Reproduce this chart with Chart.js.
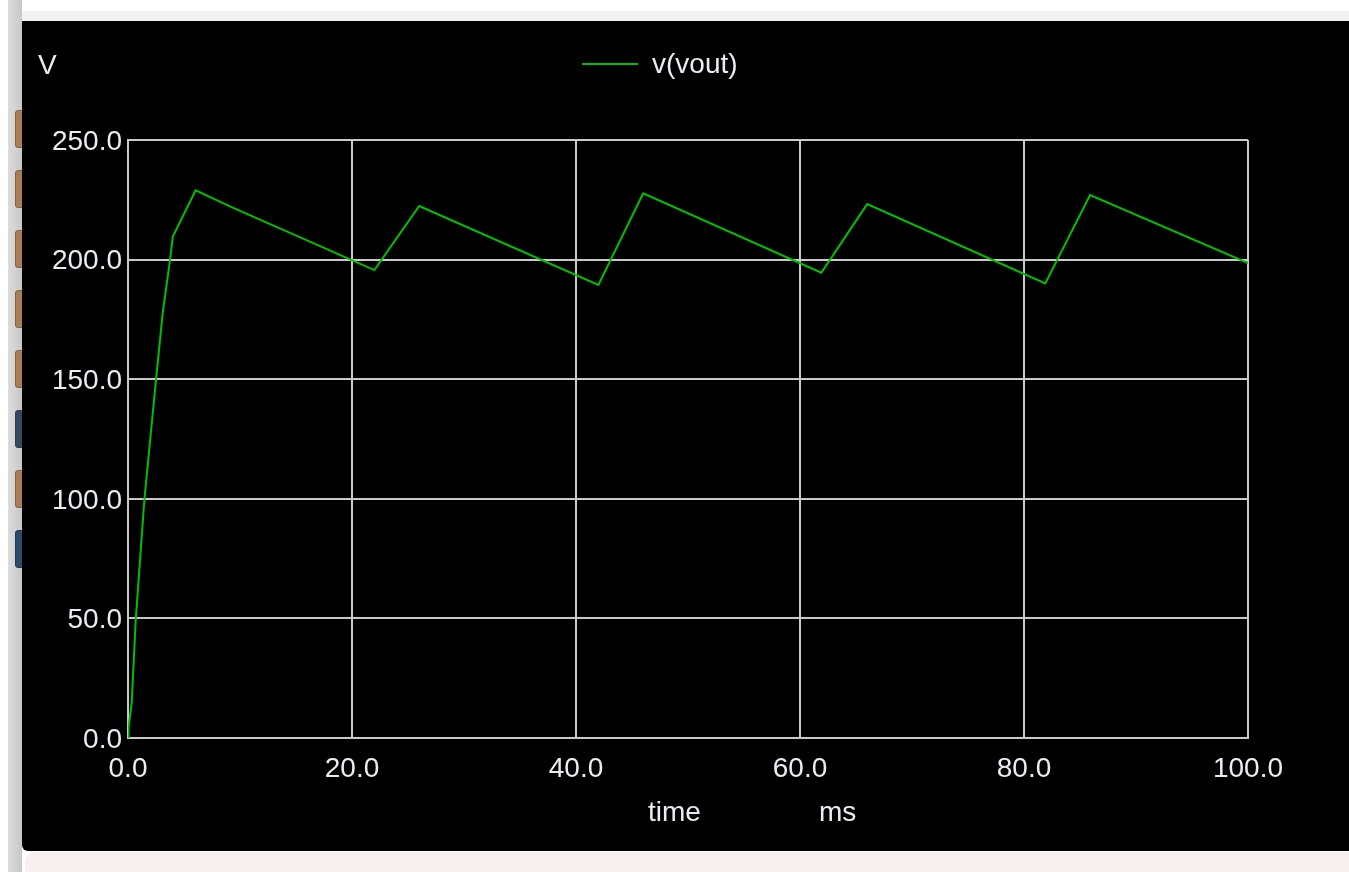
<!DOCTYPE html>
<html>
<head>
<meta charset="utf-8">
<title>v(vout)</title>
<script src="https://cdn.jsdelivr.net/npm/chart.js@4.4.1/dist/chart.umd.min.js"></script>
<style>
  html, body { margin: 0; padding: 0; }
  body { width: 1349px; height: 872px; position: relative; overflow: hidden; background: #ffffff;
         font-family: "Liberation Sans", Arial, sans-serif; }
  #topbar { position: absolute; left: 22px; top: 11px; width: 1327px; height: 10px; background: #f2f2f2; }
  #sidebar { position: absolute; left: 8px; top: 0; width: 14px; height: 872px;
             background: linear-gradient(to right, #dcdcdc, #c8c8c8); }
  .icon { position: absolute; left: 15px; width: 8px; height: 36px; border-radius: 3px;
          background: #a87d58; border: 1px solid #8a6040; }
  #plot { position: absolute; left: 22px; top: 21px; width: 1327px; height: 830px; background: #000;
          border-bottom-left-radius: 6px; }
  #plot canvas { position: absolute; left: 0; top: 0; }
  #bottombar { position: absolute; left: 25px; top: 852px; width: 1330px; height: 30px; background: #f7f0ee;
               border-top-left-radius: 10px; }
  .lbl { position: absolute; color: #e8edf2; font-size: 28px; line-height: 28px; white-space: nowrap; }
  #legend-line { position: absolute; left: 582px; top: 63px; width: 56px; height: 2px; background: #00c000; }
</style>
</head>
<body>
<div id="topbar"></div>
<div id="sidebar"></div>
<div class="icon" style="top:110px"></div>
<div class="icon" style="top:170px"></div>
<div class="icon" style="top:230px"></div>
<div class="icon" style="top:290px"></div>
<div class="icon" style="top:350px"></div>
<div class="icon" style="top:410px;background:#34495e;border-color:#2c3e50"></div>
<div class="icon" style="top:470px"></div>
<div class="icon" style="top:530px;background:#2c4a6a;border-color:#223a55"></div>
<div id="plot"><canvas id="chart" width="1327" height="830"></canvas></div>
<div id="bottombar"></div>

<div class="lbl" style="left:38px;top:51px">V</div>
<div id="legend-line"></div>
<div class="lbl" style="left:652px;top:50px">v(vout)</div>
<div class="lbl" style="left:648px;top:798px">time</div>
<div class="lbl" style="left:819px;top:798px">ms</div>

<script>
// --- Data ---
const timeMs = [0, 0.05, 0.33, 0.69, 1.46, 2.5, 3.1, 3.75, 4.0, 6.04, 9.4, 22.0, 26.0, 42.0, 46.0, 61.9, 66.0, 81.9, 85.9, 100];
const vout = [0, 4.6, 14.6, 49.3, 99.5, 149.7, 177.7, 199.8, 209.6, 229, 221.6, 195.6, 222.4, 189.4, 227.7, 194.5, 223.2, 190, 227, 198.5];
const xTicks = [0, 20, 40, 60, 80, 100];
const yTicks = [0, 50, 100, 150, 200, 250];

const gridColor = '#c8c8c8';
const textColor = '#e8edf2';
const tickFont = { family: 'Liberation Sans', size: 28 };

// fixed plot box inside the canvas
const boxLeft = 106, boxTop = 119, boxRight = 101, boxBottom = 113;

const points = timeMs.map((t, i) => ({ x: t, y: vout[i] }));

new Chart(document.getElementById('chart'), {
  type: 'line',
  data: {
    datasets: [{
      label: 'v(vout)',
      data: points,
      borderColor: '#00c000',
      borderWidth: 2,
      pointRadius: 0,
      tension: 0,
      fill: false
    }]
  },
  options: {
    responsive: false,
    animation: false,
    devicePixelRatio: 1,
    layout: { padding: { left: 0, top: boxTop, right: boxRight, bottom: 0 } },
    plugins: { legend: { display: false }, tooltip: { enabled: false } },
    scales: {
      x: {
        type: 'linear',
        min: 0, max: 100,
        afterFit: s => { s.height = boxBottom; },
        afterBuildTicks: s => { s.ticks = xTicks.map(v => ({ value: v })); },
        ticks: { color: textColor, font: tickFont, padding: 14, maxRotation: 0,
                 callback: v => v.toFixed(1) },
        grid: { color: gridColor, lineWidth: 2, drawTicks: false },
        border: { color: gridColor, width: 2 }
      },
      y: {
        min: 0, max: 250,
        afterFit: s => { s.width = boxLeft; },
        afterBuildTicks: s => { s.ticks = yTicks.map(v => ({ value: v })); },
        ticks: { color: textColor, font: tickFont, padding: 6, labelOffset: 2,
                 callback: v => v.toFixed(1) },
        grid: { color: gridColor, lineWidth: 2, drawTicks: false },
        border: { color: gridColor, width: 2 }
      }
    }
  }
});
</script>
</body>
</html>
